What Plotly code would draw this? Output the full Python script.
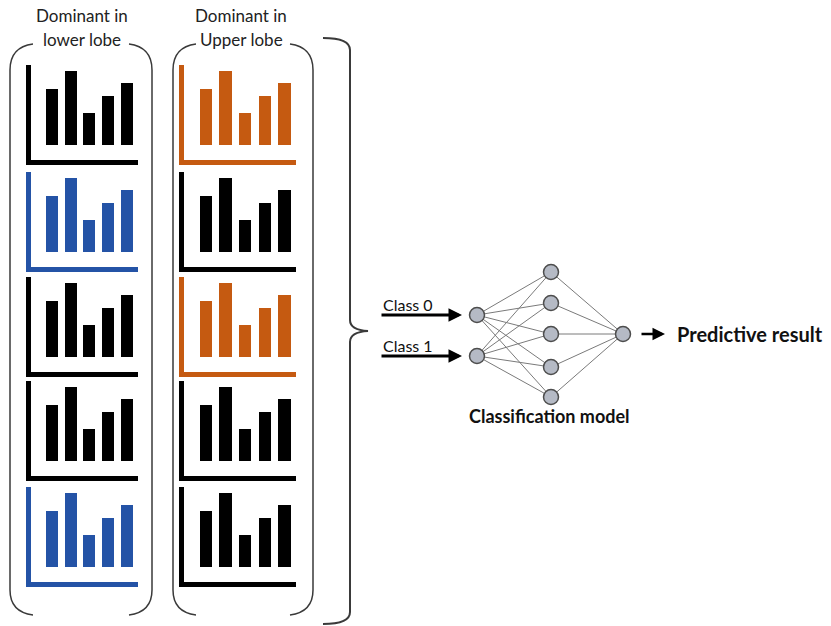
import plotly.graph_objs as go

W, H = 831, 626

# mini bar chart data
bar_cats = [0, 1, 2, 3, 4]
bar_heights = [5.6, 7.4, 3.2, 4.9, 6.2]

# colours of the small charts, top to bottom
left_colors = ['#000000', '#2453A6', '#000000', '#000000', '#2453A6']
right_colors = ['#C55A11', '#000000', '#C55A11', '#000000', '#000000']

# neural network node positions
input_y = [315, 356]
hidden_y = [272, 303, 334, 367, 397]
output_y = [334]
input_x, hidden_x, output_x = 477, 551, 623

row_tops = [65, 172, 277, 381, 487]
chart_h = 95
col_x = [(31, 138), (184, 296)]

fig = go.Figure()

def px(x):
    return x / W

def py(y):
    return 1 - y / H

layout_axes = {}
n = 2
for col, colors in enumerate([left_colors, right_colors]):
    x0, x1 = col_x[col]
    for r, c in enumerate(colors):
        top = row_tops[r]
        fig.add_trace(go.Bar(x=bar_cats, y=bar_heights, width=0.64, marker_color=c,
                             marker_line_width=0, xaxis='x%d' % n, yaxis='y%d' % n,
                             showlegend=False, hoverinfo='skip'))
        layout_axes['xaxis%d' % n] = dict(domain=[px(x0), px(x1)], anchor='y%d' % n,
                                          range=[-1.12, 4.59], showline=True, linewidth=5,
                                          linecolor=c, showgrid=False, zeroline=False,
                                          showticklabels=False, ticks='')
        layout_axes['yaxis%d' % n] = dict(domain=[py(top + chart_h), py(top)], anchor='x%d' % n,
                                          range=[-1.5, 8.0], showline=True, linewidth=5,
                                          linecolor=c, showgrid=False, zeroline=False,
                                          showticklabels=False, ticks='')
        n += 1

# network edges
ex, ey = [], []
for yi in input_y:
    for yh in hidden_y:
        ex += [input_x, hidden_x, None]
        ey += [yi, yh, None]
for yh in hidden_y:
    for yo in output_y:
        ex += [hidden_x, output_x, None]
        ey += [yh, yo, None]
fig.add_trace(go.Scatter(x=ex, y=ey, mode='lines', line=dict(color='#7a7a7a', width=1),
                         showlegend=False, hoverinfo='skip'))

nx = [input_x] * len(input_y) + [hidden_x] * len(hidden_y) + [output_x] * len(output_y)
ny = input_y + hidden_y + output_y
fig.add_trace(go.Scatter(x=nx, y=ny, mode='markers',
                         marker=dict(size=15, color='#B5BAC5', line=dict(color='#4d4d4d', width=1.5)),
                         showlegend=False, hoverinfo='skip'))

# brackets around the columns
shapes = []
bk = dict(color='#3a3a3a', width=1.5)
for xl, xr in [(10, 152), (173, 313)]:
    shapes.append(dict(type='path', xref='x', yref='y', line=bk,
                       path=f'M {xl+23},44 Q {xl},47 {xl},70 L {xl},590 Q {xl},612 {xl+23},615'))
    shapes.append(dict(type='path', xref='x', yref='y', line=bk,
                       path=f'M {xr-23},44 Q {xr},47 {xr},70 L {xr},590 Q {xr},612 {xr-23},615'))
# big curly brace
shapes.append(dict(type='path', xref='x', yref='y', line=dict(color='#3a3a3a', width=2),
                   path='M 323,38 Q 350,38 350,50 L 350,320 Q 350,330 368,331 '
                        'Q 350,332 350,342 L 350,612 Q 350,624 323,624'))

font = 'Lato, Noto Sans, sans-serif'
ann = []
for cx, lines in [(82, ['Dominant in', 'lower lobe']), (241, ['Dominant in', 'Upper lobe'])]:
    ann.append(dict(x=cx, y=15, text=lines[0], showarrow=False, xref='x', yref='y',
                    font=dict(family=font, size=17, color='#222')))
    ann.append(dict(x=cx, y=39, text=lines[1], showarrow=False, xref='x', yref='y',
                    font=dict(family=font, size=17, color='#222')))

# arrows
for yy, label in zip(input_y, ['Class 0', 'Class 1']):
    ann.append(dict(x=462, y=yy, ax=380, ay=yy, xref='x', yref='y', axref='x', ayref='y',
                    showarrow=True, arrowhead=2, arrowsize=0.9, arrowwidth=3, arrowcolor='#000', text=''))
    ann.append(dict(x=381, y=yy + 1, text=label, showarrow=False, xref='x', yref='y',
                    xanchor='left', yanchor='bottom', font=dict(family=font, size=16, color='#111')))
ann.append(dict(x=665, y=334, ax=640, ay=334, xref='x', yref='y', axref='x', ayref='y',
                showarrow=True, arrowhead=2, arrowsize=1, arrowwidth=2.5, arrowcolor='#000', text=''))
ann.append(dict(x=675, y=334, text='<b>Predictive result</b>', showarrow=False, xref='x', yref='y',
                xanchor='left', font=dict(family=font, size=20, color='#111')))
ann.append(dict(x=549, y=416, text='<b>Classification model</b>', showarrow=False, xref='x', yref='y',
                font=dict(family=font, size=18, color='#111')))

fig.update_layout(
    width=W, height=H, margin=dict(l=0, r=0, t=0, b=0),
    paper_bgcolor='white', plot_bgcolor='rgba(0,0,0,0)',
    xaxis=dict(domain=[0, 1], range=[0, W], visible=False, fixedrange=True),
    yaxis=dict(domain=[0, 1], range=[H, 0], visible=False, fixedrange=True),
    shapes=shapes, annotations=ann, bargap=0,
    **layout_axes
)

fig.write_html("out.html", config={'displayModeBar': False},
               post_script="document.body.style.margin='0';")
